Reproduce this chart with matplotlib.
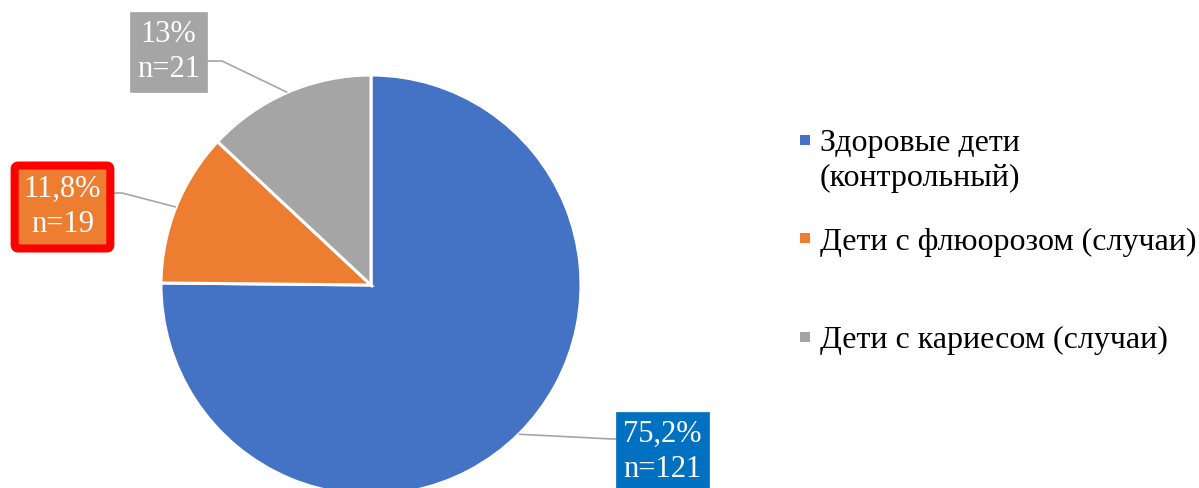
import matplotlib
matplotlib.use("Agg")
import matplotlib.pyplot as plt
from matplotlib.patches import Rectangle
import numpy as np

# ---- data ----
categories = ["Здоровые дети\n(контрольный)", "Дети с флюорозом (случаи)", "Дети с кариесом (случаи)"]
counts = [121, 19, 21]
pct_labels = ["75,2%", "11,8%", "13%"]
colors = ["#4472C4", "#ED7D31", "#A5A5A5"]
box_colors = ["#0070C0", "#ED7D31", "#A5A5A5"]
box_edges = ["#0070C0", "#FF0000", "#A5A5A5"]
box_lw = [0.5, 5.8, 0.5]

W, H = 1199, 488
FONT = "Liberation Serif"
fig = plt.figure(figsize=(W / 100, H / 100), dpi=100)

# pie axes: centre (371,285) px, radius 210 px
cx, cy, R = 371, 285, 210
ax = fig.add_axes([(cx - R) / W, (H - cy - R) / H, 2 * R / W, 2 * R / H])
wedges, _ = ax.pie(counts, colors=colors, startangle=90, counterclock=False,
                   radius=1, wedgeprops=dict(edgecolor="white", linewidth=2.2))
ax.set_xlim(-1, 1)
ax.set_ylim(-1, 1)
ax.set_aspect("equal")
ax.axis("off")


def p2d(px, py):
    return (px - cx) / R, (cy - py) / R


# label layout in image pixels: box centre, elbow point
box_centres = [(662.5, 452), (62.5, 207), (168.5, 52)]
elbows = [(612, 439), (122, 193), (222, 61)]
pads = [0.24, 0.3, 0.24]

for w, lab, n, bc, el, fc, ec, lw, pd in zip(wedges, pct_labels, counts, box_centres,
                                              elbows, box_colors, box_edges, box_lw, pads):
    th = np.deg2rad((w.theta1 + w.theta2) / 2)
    p0 = (np.cos(th), np.sin(th))
    e = p2d(*el)
    b = p2d(bc[0], el[1])
    ax.plot([p0[0], e[0], b[0]], [p0[1], e[1], b[1]], color="#A6A6A6", lw=1.2,
            clip_on=False, zorder=3, solid_capstyle="butt")
    bx, by = p2d(*bc)
    style = f"round,pad={pd},rounding_size=0.12" if lw > 1 else f"square,pad={pd}"
    ax.text(bx, by, f"{lab}\nn={n}", ha="center", va="center", color="white",
            fontsize=22, family=FONT, linespacing=1.3, clip_on=False, zorder=5,
            bbox=dict(boxstyle=style, fc=fc, ec=ec, lw=lw))

# legend (manual)
leg_sq_y = [140, 238, 337]
leg_txt_y = [161, 242, 340]
for lab, col, sy, ty in zip(categories, colors, leg_sq_y, leg_txt_y):
    fig.add_artist(Rectangle((800 / W, 1 - (sy + 5) / H), 10 / W, 10 / H,
                             transform=fig.transFigure, fc=col, ec="none"))
    fig.text(820 / W, 1 - ty / H, lab, ha="left", va="center", fontsize=23,
             family=FONT, color="#000000", linespacing=1.3)

fig.savefig("out.png", dpi=100, facecolor="white")
